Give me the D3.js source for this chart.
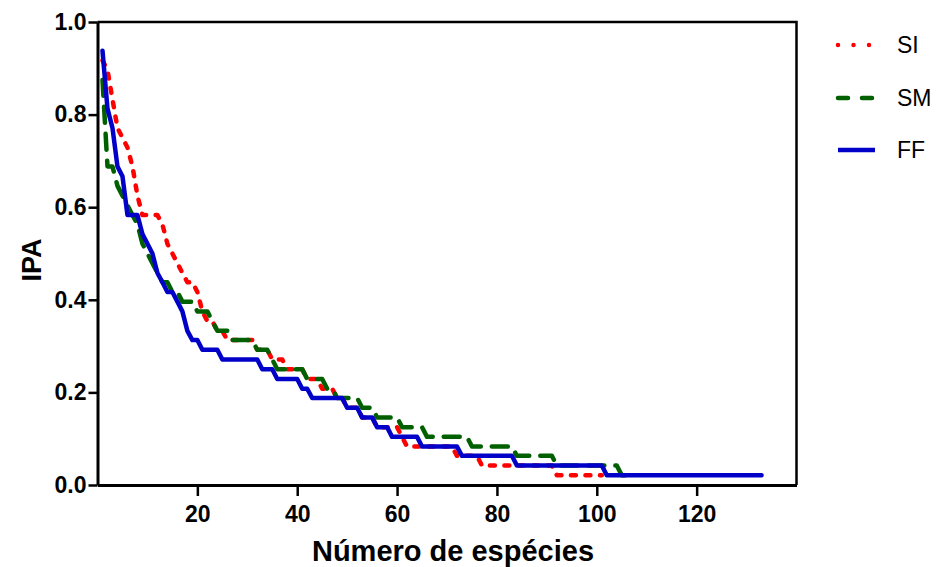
<!DOCTYPE html>
<html>
<head>
<meta charset="utf-8">
<script src="https://cdn.jsdelivr.net/npm/d3@7/dist/d3.min.js"></script>
<style>
  html, body { margin: 0; padding: 0; background: #fff; }
  svg { display: block; }
</style>
</head>
<body>
<svg id="chart" width="942" height="567"></svg>
<script>
// ---- data (species rank, IPA) ----
const seriesNames = ["SI", "SM", "FF"];
const xTicks = [20, 40, 60, 80, 100, 120];
const yTicks = [0, 0.2, 0.4, 0.6, 0.8, 1.0];

const siPoints = [
  [1,.917],[2,.896],[3,.833],[4,.771],[5,.75],[6,.729],[7,.688],[8,.625],[9,.583],[12,.583],
  [13,.563],[14,.521],[15,.5],[16,.479],[17,.458],[18,.438],[19,.438],[20,.417],[21,.375],
  [22,.354],[23,.354],[24,.333],[25,.333],[26,.313],[31,.313],[32,.292],[34,.292],[35,.271],
  [37,.271],[38,.25],[41,.25],[42,.229],[44,.229],[45,.208],[47,.208],[48,.188],[49,.188],
  [50,.167],[52,.167],[53,.146],[55,.146],[56,.125],[60,.125],[61,.104],[62,.083],[71,.083],
  [72,.063],[76,.063],[77,.042],[91,.042],[92,.021],[101,.021]
];
const smPoints = [
  [1,.875],[2,.688],[3,.688],[4,.646],[5,.625],[6,.604],[7,.583],[8,.563],[9,.521],[10,.5],
  [11,.479],[12,.458],[13,.438],[14,.438],[15,.417],[16,.417],[17,.396],[19,.396],[20,.375],
  [22,.375],[23,.354],[24,.333],[26,.333],[27,.313],[31,.313],[32,.292],[34,.292],[35,.271],
  [36,.25],[41,.25],[42,.229],[45,.229],[46,.208],[47,.208],[48,.188],[52,.188],[53,.167],
  [55,.167],[56,.146],[60,.146],[61,.125],[65,.125],[66,.104],[74,.104],[75,.083],[83,.083],
  [84,.063],[91,.063],[92,.042],[104,.042],[105,.021],[106,.021]
];
const ffPoints = [
  [1,.938],[2,.813],[3,.771],[4,.688],[5,.667],[6,.583],[8,.583],[9,.542],[10,.521],[11,.5],
  [12,.458],[13,.438],[14,.417],[15,.417],[16,.396],[17,.375],[18,.333],[19,.313],[20,.313],
  [21,.292],[24,.292],[25,.271],[32,.271],[33,.25],[35,.25],[36,.229],[40,.229],[41,.208],
  [42,.208],[43,.188],[49,.188],[50,.167],[52,.167],[53,.146],[55,.146],[56,.125],[58,.125],
  [59,.104],[64,.104],[65,.083],[72,.083],[73,.063],[83,.063],[84,.042],[101,.042],[102,.021],
  [133,.021]
];

// ---- drawing ----
const svg = d3.select("#chart");
const x = d3.scaleLinear().domain([0, 140]).range([97.5, 796.5]);
const y = d3.scaleLinear().domain([0, 1]).range([485, 22]);

const styles = {
  SI: { color: "#ff0000", dash: "5 9.5", width: 4.5 },
  SM: { color: "#006000", dash: "16 11", width: 4.5 },
  FF: { color: "#0000c8", dash: null, width: 4.5 }
};
const data = { SI: siPoints, SM: smPoints, FF: ffPoints };

// frame (top & right)
svg.append("path")
  .attr("d", `M${x(0)},${y(1)}H${x(140)}V${y(0)}`)
  .attr("fill", "none").attr("stroke", "#000").attr("stroke-width", 2.5);

const line = d3.line().x(d => x(d[0])).y(d => y(d[1]));
seriesNames.forEach(name => {
  const s = styles[name];
  const p = svg.append("path")
    .datum(data[name])
    .attr("d", line)
    .attr("fill", "none")
    .attr("stroke", s.color)
    .attr("stroke-width", s.width)
    .attr("stroke-linecap", "round")
    .attr("stroke-linejoin", "round");
  if (s.dash) p.attr("stroke-dasharray", s.dash);
});

// axes
const xAxis = d3.axisBottom(x).tickValues(xTicks).tickSize(11).tickSizeOuter(0).tickPadding(10);
const gx = svg.append("g").attr("transform", `translate(0,${y(0)})`).call(xAxis);
gx.select(".domain").attr("stroke-width", 3);
gx.selectAll(".tick line").attr("stroke-width", 2.5);
gx.selectAll("text").attr("font-family", "Liberation Sans, Arial, sans-serif")
  .attr("font-weight", "bold").attr("font-size", 23).attr("fill", "#000");

const yAxis = d3.axisLeft(y).tickValues(yTicks).tickFormat(d3.format(".1f")).tickSize(9).tickSizeOuter(0).tickPadding(2);
const gy = svg.append("g").attr("transform", `translate(${x(0)},0)`).call(yAxis);
gy.select(".domain").attr("stroke-width", 3);
gy.selectAll(".tick line").attr("stroke-width", 2.5);
gy.selectAll("text").attr("font-family", "Liberation Sans, Arial, sans-serif")
  .attr("font-weight", "bold").attr("font-size", 23).attr("fill", "#000");

// axis titles
svg.append("text").attr("x", 453).attr("y", 561).attr("text-anchor", "middle")
  .attr("font-family", "Liberation Sans, Arial, sans-serif").attr("font-weight", "bold")
  .attr("font-size", 29).text("Número de espécies");
svg.append("text").attr("transform", "translate(41,260) rotate(-90)").attr("text-anchor", "middle")
  .attr("font-family", "Liberation Sans, Arial, sans-serif").attr("font-weight", "bold")
  .attr("font-size", 27).text("IPA");

// legend
const legY = [45, 98, 150];
seriesNames.forEach((name, i) => {
  const s = styles[name];
  const g = svg.append("g").attr("transform", `translate(0,${legY[i]})`);
  const l = g.append("line").attr("x1", 838).attr("x2", 875).attr("y1", 0).attr("y2", 0)
    .attr("stroke", s.color).attr("stroke-width", 4.5).attr("stroke-linecap", name === "FF" ? "butt" : "round");
  if (name === "SI") l.attr("stroke-dasharray", "0 15.5");
  if (name === "SM") l.attr("stroke-dasharray", "10 14");
  g.append("text").attr("x", 897).attr("y", 8).attr("font-family", "Liberation Sans, Arial, sans-serif")
    .attr("font-size", 23).attr("fill", "#000").text(name);
});
</script>
</body>
</html>
